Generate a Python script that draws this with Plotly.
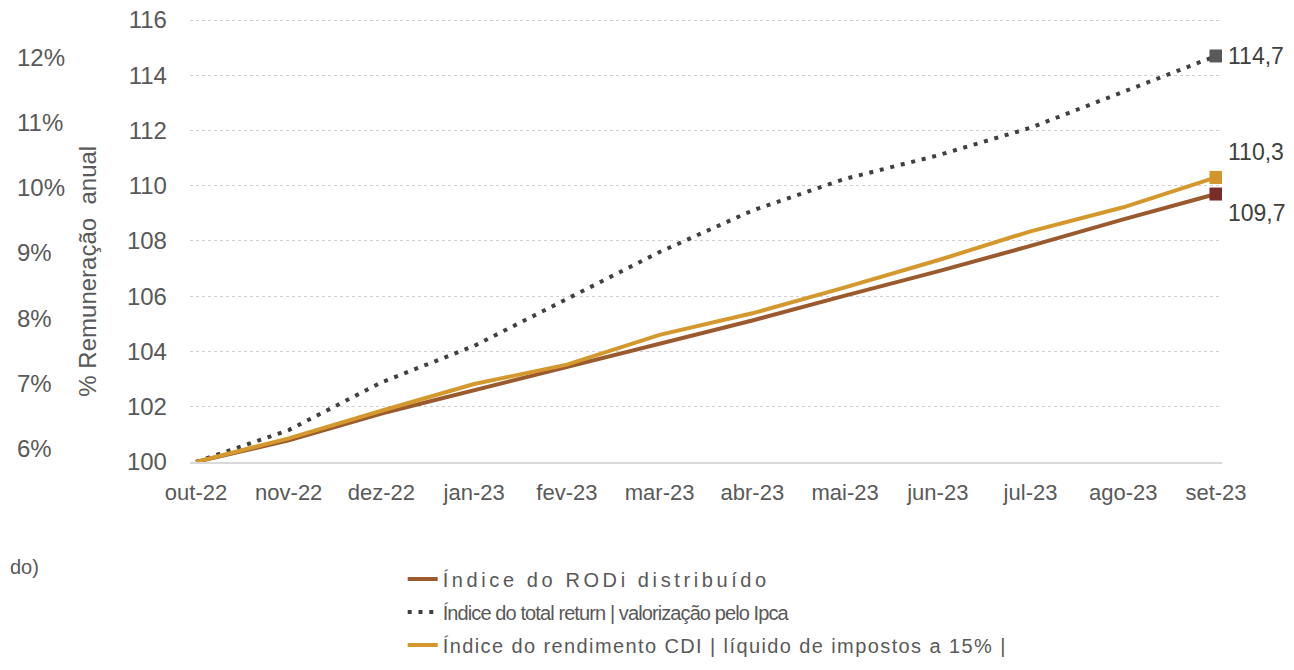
import plotly.graph_objects as go

months = ["out-22", "nov-22", "dez-22", "jan-23", "fev-23", "mar-23",
          "abr-23", "mai-23", "jun-23", "jul-23", "ago-23", "set-23"]
rodi = [100.0, 100.78, 101.75, 102.6, 103.42, 104.3, 105.12, 106.02, 106.9, 107.82, 108.78, 109.7]
total_return = [100.0, 101.15, 102.88, 104.2, 105.9, 107.6, 109.1, 110.25, 111.1, 112.1, 113.4, 114.7]
cdi = [100.0, 100.85, 101.85, 102.82, 103.52, 104.6, 105.38, 106.32, 107.3, 108.35, 109.22, 110.3]
y_ticks = [100, 102, 104, 106, 108, 110, 112, 114, 116]
pct_ticks = [6, 7, 8, 9, 10, 11, 12]
pct_labels = ["6%", "7%", "8%", "9%", "10%", "11%", "12%"]

names = ["Índice do RODi distribuído",
         "Índice do total return | valorização pelo Ipca",
         "Índice do rendimento CDI | líquido de impostos a 15% |"]
spacing = [3.6, -0.9, 1.4]

C_BROWN = "#9B5A2E"
C_DOT = "#404040"
C_GOLD = "#D4982C"
C_END_BROWN = "#7B2B27"
C_END_DOT = "#595959"
C_END_GOLD = "#D4962B"
TXT = "#595959"

fig = go.Figure()
fig.add_trace(go.Scatter(x=months, y=rodi, mode="lines",
                         name=f'<span style="letter-spacing:{spacing[0]}px">{names[0]}</span>',
                         line=dict(color=C_BROWN, width=4), legendgroup="a"))
fig.add_trace(go.Scatter(x=months, y=total_return, mode="lines",
                         name=f'<span style="letter-spacing:{spacing[1]}px">{names[1]}</span>',
                         line=dict(color=C_DOT, width=4, dash="4px,6.8px"), legendgroup="b"))
fig.add_trace(go.Scatter(x=months, y=cdi, mode="lines",
                         name=f'<span style="letter-spacing:{spacing[2]}px">{names[2]}</span>',
                         line=dict(color=C_GOLD, width=4), legendgroup="c"))

# end markers
for series, col in [(total_return, C_END_DOT), (cdi, C_END_GOLD), (rodi, C_END_BROWN)]:
    fig.add_trace(go.Scatter(x=[months[-1]], y=[series[-1]], mode="markers",
                             marker=dict(symbol="square", size=13, color=col),
                             showlegend=False, hoverinfo="skip"))

def fmt(v):
    return f"{v:.1f}".replace(".", ",")

for series, ysh in [(total_return, 0), (cdi, 25), (rodi, -19)]:
    fig.add_annotation(x=months[-1], y=series[-1], xref="x", yref="y",
                       text=fmt(series[-1]), showarrow=False, xanchor="left",
                       xshift=10, yshift=ysh,
                       font=dict(family="Liberation Sans, Arial", size=23, color="#404040"))

# stray elements of the neighbouring chart
fig.add_annotation(xref="paper", yref="paper", x=0.0512, y=0.43,
                   text="% Remuneração  anual", textangle=-90, showarrow=False,
                   font=dict(family="Liberation Sans, Arial", size=24, color=TXT))
fig.add_annotation(xref="paper", yref="paper", x=-0.0016, y=-0.265, xanchor="left",
                   text="do)", showarrow=False,
                   font=dict(family="Liberation Sans, Arial", size=20, color=TXT))

# invisible trace to activate the y2 axis
fig.add_trace(go.Scatter(x=[months[0]], y=[pct_ticks[0]], yaxis="y2", mode="markers",
                         marker=dict(opacity=0), showlegend=False, hoverinfo="skip"))

fig.update_layout(
    width=1294, height=670,
    margin=dict(l=2, r=80, t=10, b=216, autoexpand=False),
    paper_bgcolor="white", plot_bgcolor="white",
    font=dict(family="Liberation Sans, Arial", color=TXT),
    xaxis=dict(domain=[0.1485, 1], type="category", range=[-0.065, 11.065],
               showgrid=False, showline=True, linecolor="#D9D9D9", linewidth=2,
               ticks="", tickfont=dict(size=22, color=TXT), ticklabelstandoff=10,
               zeroline=False, automargin=False),
    yaxis=dict(range=[99.995, 116.075], tickvals=y_ticks,
               showgrid=True, gridcolor="#D0D0D0", griddash="dot", gridwidth=1,
               zeroline=False, showline=False, ticks="", automargin=False,
               ticklabeloverflow="allow",
               tickfont=dict(size=24, color=TXT), ticklabelstandoff=22),
    yaxis2=dict(overlaying="y", side="right", anchor="free", position=0,
                range=[5.80, 12.60], tickvals=pct_ticks, ticktext=pct_labels,
                showgrid=False, zeroline=False, showline=False, ticks="", automargin=False,
                ticklabeloverflow="allow",
                tickfont=dict(size=24, color=TXT), ticklabelstandoff=6),
    legend=dict(x=0.324, y=-0.2195, xanchor="left", yanchor="top",
                font=dict(family="Liberation Sans, Arial", size=20, color=TXT),
                tracegroupgap=4, bgcolor="rgba(0,0,0,0)"),
    showlegend=True,
)

fig.write_html("out.html")
